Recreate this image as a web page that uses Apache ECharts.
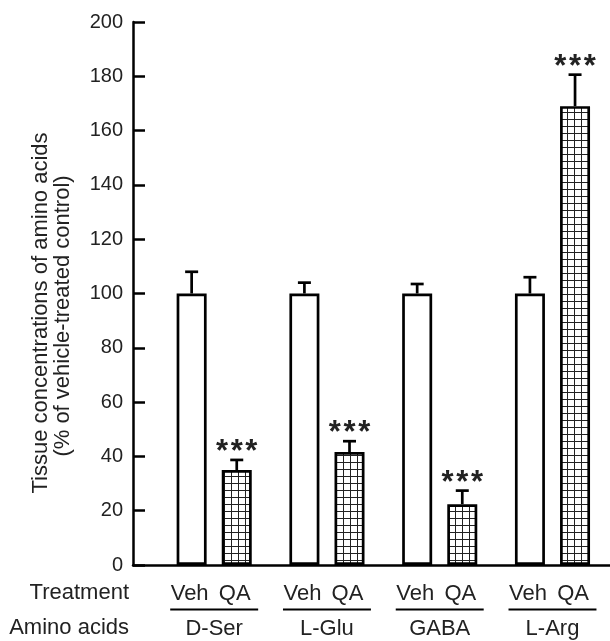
<!DOCTYPE html>
<html>
<head>
<meta charset="utf-8">
<script src="https://cdn.jsdelivr.net/npm/echarts@6/dist/echarts.min.js"></script>
<style>
html,body{margin:0;padding:0;background:#fff;}
#chart{width:610px;height:641px;}
</style>
</head>
<body>
<div id="chart"></div>
<script>
// ---- data ----
const categories = ['D-Ser', 'L-Glu', 'GABA', 'L-Arg'];
const treatments = ['Veh', 'QA'];
const vehMeans = [100, 100, 100, 100];
const vehSem = [8, 4, 3.5, 6];
const qaMeans = [35, 41.6, 22.4, 169];
const qaSem = [3.7, 4, 5, 11.6];
const qaSignificance = ['***', '***', '***', '***'];
const yTickValues = [0, 20, 40, 60, 80, 100, 120, 140, 160, 180, 200];
const yAxisTitle = ['Tissue concentrations of amino acids', '(% of vehicle-treated control)'];
const rowTitles = ['Treatment', 'Amino acids'];

// ---- layout helpers ----
const FONT = '"Liberation Sans", Arial, sans-serif';
const TEXT = '#222';
const PAIR_OFFSET = 0.2;
function pos(g, t) { return g + 1 + (t === 0 ? -PAIR_OFFSET : PAIR_OFFSET); }

// grid hatch pattern for QA bars
const tile = document.createElement('canvas');
tile.width = 7; tile.height = 7;
const tc = tile.getContext('2d');
tc.fillStyle = '#fff'; tc.fillRect(0, 0, 7, 7);
tc.fillStyle = '#222'; tc.fillRect(0, 0, 7, 1); tc.fillRect(0, 0, 1, 7);
const hatch = { image: tile, repeat: 'repeat' };

const barData = [];
const errData = [];
const tickLabelData = [];
categories.forEach((c, g) => {
  barData.push({ value: [pos(g, 0), vehMeans[g]], itemStyle: { color: '#fff' } });
  barData.push({ value: [pos(g, 1), qaMeans[g]], itemStyle: { color: hatch } });
  errData.push([pos(g, 0), vehMeans[g], vehSem[g], '']);
  errData.push([pos(g, 1), qaMeans[g], qaSem[g], qaSignificance[g]]);
  tickLabelData.push([pos(g, 0), treatments[0]]);
  tickLabelData.push([pos(g, 1), treatments[1]]);
});
const groupData = categories.map((c, g) => [g + 1, c]);

const chart = echarts.init(document.getElementById('chart'), null, { renderer: 'canvas' });
chart.setOption({
  animation: false,
  backgroundColor: '#fff',
  grid: { left: 133, right: 0, top: 22, bottom: 76 },
  xAxis: {
    type: 'value', min: 0.28, max: 4.51,
    axisLine: { show: true, onZero: false, lineStyle: { color: '#000', width: 2.5 } },
    axisTick: { show: false }, axisLabel: { show: false }, splitLine: { show: false }
  },
  yAxis: {
    type: 'value', min: 0, max: 200, interval: 20,
    axisLine: { show: true, lineStyle: { color: '#000', width: 2.5 } },
    axisTick: { show: true, inside: true, length: 12, lineStyle: { color: '#000', width: 2.5 } },
    axisLabel: { color: TEXT, fontSize: 20, fontFamily: FONT, margin: 10,
      formatter: v => yTickValues.includes(v) ? String(v) : '' },
    splitLine: { show: false }
  },
  series: [
    {
      type: 'bar', data: barData, barWidth: 30,
      itemStyle: { borderColor: '#000', borderWidth: 2.7 }
    },
    {
      type: 'custom', data: errData, clip: false, z: 3,
      renderItem: function (params, api) {
        const x = api.value(0), m = api.value(1), s = api.value(2);
        const stars = errData[params.dataIndex][3];
        const base = api.coord([x, m]);
        const top = api.coord([x, m + s]);
        const children = [
          { type: 'line', shape: { x1: base[0], y1: base[1], x2: top[0], y2: top[1] },
            style: { stroke: '#000', lineWidth: 2.7 } },
          { type: 'line', shape: { x1: top[0] - 6.5, y1: top[1], x2: top[0] + 6.5, y2: top[1] },
            style: { stroke: '#000', lineWidth: 2.7 } }
        ];
        if (stars) {
          children.push({ type: 'text', x: top[0], y: top[1] + 8,
            style: { text: stars.split('').join('\u200A'), fill: '#222', font: 'bold 31px ' + FONT,
              textAlign: 'center', textVerticalAlign: 'bottom' } });
        }
        return { type: 'group', children: children };
      }
    },
    {
      type: 'custom', data: tickLabelData, clip: false,
      renderItem: function (params, api) {
        const p = api.coord([api.value(0), 0]);
        return { type: 'text', x: p[0] - 2, y: p[1] + 29,
          style: { text: tickLabelData[params.dataIndex][1], fill: TEXT, font: '22px ' + FONT,
            textAlign: 'center', textVerticalAlign: 'middle' } };
      }
    },
    {
      type: 'custom', data: groupData, clip: false,
      renderItem: function (params, api) {
        const c = api.value(0);
        const l = api.coord([c - 0.39, 0]);
        const r = api.coord([c + 0.39, 0]);
        const m = api.coord([c, 0]);
        return { type: 'group', children: [
          { type: 'line', shape: { x1: l[0], y1: l[1] + 44.5, x2: r[0], y2: r[1] + 44.5 },
            style: { stroke: '#000', lineWidth: 2.2 } },
          { type: 'text', x: m[0], y: m[1] + 64,
            style: { text: groupData[params.dataIndex][1], fill: TEXT, font: '22px ' + FONT,
              textAlign: 'center', textVerticalAlign: 'middle' } }
        ] };
      }
    }
  ],
  graphic: [
    { type: 'text', x: 41, y: 313, rotation: Math.PI / 2,
      style: { text: yAxisTitle[0], fill: TEXT, font: '22px ' + FONT, textAlign: 'center', textVerticalAlign: 'middle' } },
    { type: 'text', x: 63, y: 316, rotation: Math.PI / 2,
      style: { text: yAxisTitle[1], fill: TEXT, font: '22px ' + FONT, textAlign: 'center', textVerticalAlign: 'middle' } },
    { type: 'text', x: 129, y: 593,
      style: { text: rowTitles[0], fill: TEXT, font: '22px ' + FONT, textAlign: 'right', textVerticalAlign: 'middle' } },
    { type: 'text', x: 129, y: 628,
      style: { text: rowTitles[1], fill: TEXT, font: '22px ' + FONT, textAlign: 'right', textVerticalAlign: 'middle' } }
  ]
});
</script>
</body>
</html>
